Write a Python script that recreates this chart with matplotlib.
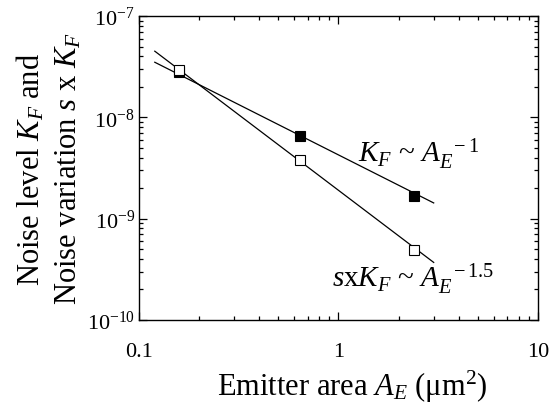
import numpy as np
import matplotlib.pyplot as plt
from matplotlib.ticker import LogLocator, FixedLocator, NullFormatter

plt.rcParams['font.family'] = ['Liberation Serif', 'DejaVu Serif']
plt.rcParams['mathtext.fontset'] = 'custom'
plt.rcParams['mathtext.rm'] = 'Liberation Serif'
plt.rcParams['mathtext.it'] = 'Liberation Serif:italic'

# measured data
area = [0.159, 0.641, 2.39]
kf = [2.79e-8, 6.6e-9, 1.66e-9]
skf = [2.94e-8, 3.77e-9, 4.91e-10]

# fitted power-law lines (end points)
fit_x = [0.12, 3.0]
kf_fit = [3.5e-8, 1.43e-9]
skf_fit = [4.5e-8, 3.7e-10]

xticks = [0.1, 1, 10]
xlabels = ['0.1', '1', '10']
yticks = [1e-10, 1e-9, 1e-8, 1e-7]
ylabels = ['$10^{-10}$', '$10^{-9}$', '$10^{-8}$', '$10^{-7}$']

fig = plt.figure(figsize=(5.5, 4.06), dpi=100)
ax = fig.add_axes([0.2527, 0.2094, 0.7255, 0.7486])

ax.plot(fit_x, kf_fit, color='black', lw=0.9)
ax.plot(fit_x, skf_fit, color='black', lw=0.9)
ax.plot(area, kf, 's', ms=7.2, mfc='black', mec='black', mew=0.8)
ax.plot(area, skf, 's', ms=7.2, mfc='white', mec='black', mew=0.8)

ax.set_xscale('log')
ax.set_yscale('log')
ax.set_xlim(0.1, 10)
ax.set_ylim(1e-10, 1e-7)

ax.xaxis.set_major_locator(FixedLocator(xticks))
ax.set_xticklabels(xlabels)
ax.yaxis.set_major_locator(FixedLocator(yticks))
ax.set_yticklabels(ylabels)
ax.xaxis.set_minor_locator(LogLocator(base=10, subs=np.arange(2, 10), numticks=20))
ax.yaxis.set_minor_locator(LogLocator(base=10, subs=np.arange(2, 10), numticks=20))
ax.xaxis.set_minor_formatter(NullFormatter())
ax.yaxis.set_minor_formatter(NullFormatter())

ax.tick_params(which='both', direction='in', top=True, right=True,
               labelsize=16, width=0.9)
ax.tick_params(axis='x', pad=16)
ax.tick_params(axis='y', pad=3)
ax.tick_params(which='major', length=6)
ax.tick_params(which='minor', length=3)
for s in ax.spines.values():
    s.set_linewidth(1.0)

ax.set_xlabel(r'Emitter area $A_{E}$ ($\mathrm{\mu m}^{2}$)', fontsize=22)
ax.xaxis.set_label_coords(0.534, -0.158)
ax.set_ylabel('Noise level $K_{F}$ and\nNoise variation $s$ x $K_{F}$',
              fontsize=22, linespacing=1.3)
ax.yaxis.set_label_coords(-0.14, 0.5)

ax.text(1.25, 3.7e-9, r'$K_{F}$ ~ $A_{E}^{\ \ -1}$', fontsize=21, va='baseline')
ax.text(0.93, 2.17e-10, r'$s$x$K_{F}$ ~ $A_{E}^{\ \ -1.5}$', fontsize=21, va='baseline')

fig.savefig('out.png', dpi=100)
